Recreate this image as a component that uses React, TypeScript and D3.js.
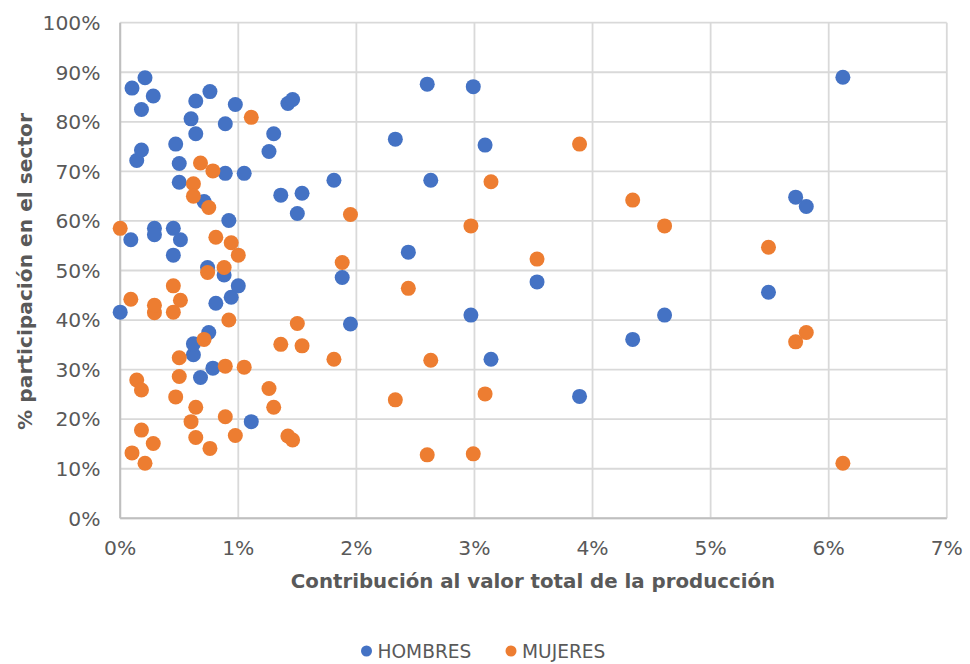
import React from "react";
import * as d3 from "d3";

const contribucion = [
  0.0, 0.09, 0.1, 0.14, 0.18, 0.18, 0.21, 0.28, 0.29, 0.29,
  0.45, 0.45, 0.47, 0.5, 0.5, 0.51, 0.6, 0.62, 0.62, 0.64,
  0.64, 0.68, 0.71, 0.75, 0.74, 0.76, 0.785, 0.81, 0.88, 0.89,
  0.89, 0.92, 0.94, 0.975, 1.0, 1.05, 1.11, 1.26, 1.3, 1.36,
  1.42, 1.46, 1.5, 1.54, 1.81, 1.88, 1.95, 2.33, 2.44, 2.6,
  2.63, 2.97, 2.99, 3.09, 3.14, 3.53, 3.89, 4.34, 4.61, 5.49,
  5.72, 5.81, 6.12,
];
const hombres = [
  41.6, 56.2, 86.8, 72.2, 82.5, 74.3, 88.9, 85.2, 58.5, 57.2,
  58.5, 53.1, 75.5, 71.6, 67.8, 56.2, 80.6, 33.0, 35.2, 84.2,
  77.6, 28.4, 63.9, 37.5, 50.6, 86.1, 30.3, 43.4, 49.1, 79.6,
  69.6, 60.1, 44.6, 83.5, 46.9, 69.6, 19.5, 74.0, 77.6, 65.2,
  83.7, 84.5, 61.5, 65.6, 68.2, 48.6, 39.2, 76.5, 53.7, 87.6,
  68.2, 41.0, 87.1, 75.3, 32.1, 47.7, 24.6, 36.1, 41.0, 45.6,
  64.8, 62.9, 89.0,
];
const mujeres = [
  58.5, 44.2, 13.2, 27.9, 17.8, 25.9, 11.1, 15.1, 41.5, 43.0,
  41.6, 46.9, 24.5, 28.6, 32.4, 44.0, 19.5, 67.5, 65.0, 16.3,
  22.4, 71.7, 36.1, 62.7, 49.6, 14.1, 70.1, 56.7, 50.6, 20.5,
  30.7, 40.0, 55.6, 16.7, 53.1, 30.5, 80.9, 26.2, 22.4, 35.1,
  16.6, 15.8, 39.3, 34.8, 32.1, 51.6, 61.3, 23.9, 46.4, 12.8,
  31.9, 59.0, 13.0, 25.1, 67.9, 52.3, 75.5, 64.2, 59.0, 54.7,
  35.6, 37.5, 11.1,
];
const xTicks = [0, 1, 2, 3, 4, 5, 6, 7];
const yTicks = [0, 10, 20, 30, 40, 50, 60, 70, 80, 90, 100];
const seriesNames = ["HOMBRES", "MUJERES"];
const seriesColors = ["#4472C4", "#ED7D31"];

export default function App() {
  const W = 970;
  const H = 664;
  const x = d3.scaleLinear().domain([0, 7]).range([120.2, 946.8]);
  const y = d3.scaleLinear().domain([0, 100]).range([518.3, 22.7]);
  const font = "'DejaVu Sans', Verdana, sans-serif";
  const textColor = "#595959";
  const series = [hombres, mujeres];

  return (
    <svg
      width={W}
      height={H}
      style={{ position: "absolute", left: 0, top: 0, background: "#fff" }}
      fontFamily={font}
    >
      <rect x={0} y={0} width={W} height={H} fill="#fff" />
      {yTicks.map((t) => (
        <line
          key={"gy" + t}
          x1={x(0)}
          x2={x(7)}
          y1={y(t)}
          y2={y(t)}
          stroke="#D9D9D9"
          strokeWidth={1.8}
        />
      ))}
      {xTicks.map((t) => (
        <line
          key={"gx" + t}
          x1={x(t)}
          x2={x(t)}
          y1={y(0)}
          y2={y(100)}
          stroke="#D9D9D9"
          strokeWidth={1.8}
        />
      ))}
      <line x1={x(0)} x2={x(7)} y1={y(0)} y2={y(0)} stroke="#BFBFBF" strokeWidth={2} />
      <line x1={x(0)} x2={x(0)} y1={y(0)} y2={y(100)} stroke="#BFBFBF" strokeWidth={2} />
      {yTicks.map((t) => (
        <text
          key={"ty" + t}
          x={100.5}
          y={y(t)}
          dy="0.36em"
          textAnchor="end"
          fontSize={20.3}
          fill={textColor}
        >
          {t + "%"}
        </text>
      ))}
      {xTicks.map((t) => (
        <text
          key={"tx" + t}
          x={x(t)}
          y={548}
          dy="0.36em"
          textAnchor="middle"
          fontSize={20.3}
          fill={textColor}
        >
          {t + "%"}
        </text>
      ))}
      <text
        x={533}
        y={581}
        dy="0.36em"
        textAnchor="middle"
        fontSize={19.8}
        fontWeight="bold"
        fill={textColor}
      >
        Contribución al valor total de la producción
      </text>
      <text
        transform={`translate(25,271.5) rotate(-90)`}
        dy="0.36em"
        textAnchor="middle"
        fontSize={20.2}
        fontWeight="bold"
        fill={textColor}
      >
        % participación en el sector
      </text>
      {series.map((vals, si) => (
        <g key={"s" + si}>
          {vals.map((v, i) => (
            <circle
              key={i}
              cx={x(contribucion[i])}
              cy={y(v)}
              r={7.5}
              fill={seriesColors[si]}
            />
          ))}
        </g>
      ))}
      {seriesNames.map((n, i) => {
        const lx = i === 0 ? 366.5 : 511;
        return (
          <g key={"l" + n}>
            <circle cx={lx} cy={651} r={5.5} fill={seriesColors[i]} />
            <text x={lx + 11} y={651} dy="0.36em" fontSize={18.6} fill={textColor}>
              {n}
            </text>
          </g>
        );
      })}
    </svg>
  );
}
